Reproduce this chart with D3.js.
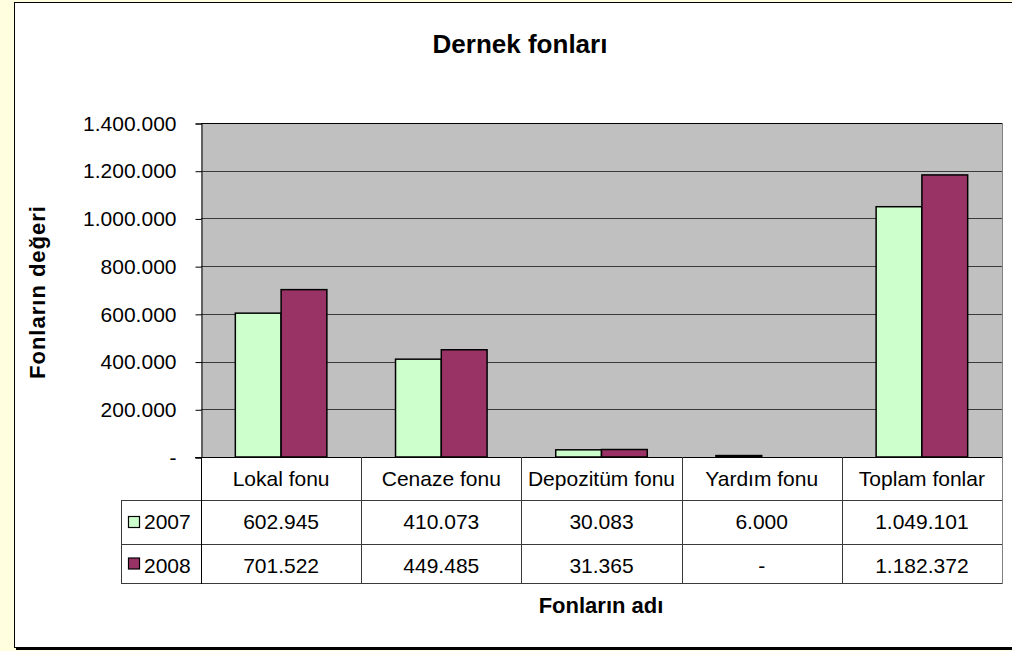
<!DOCTYPE html>
<html>
<head>
<meta charset="utf-8">
<script src="https://cdn.jsdelivr.net/npm/d3@7"></script>
<style>
  html, body { margin: 0; padding: 0; background: #ffffe0; overflow: hidden; }
  svg { display: block; font-family: "Liberation Sans", Arial, sans-serif; }
</style>
</head>
<body>
<div id="chart"></div>
<script>
const categories = ["Lokal fonu", "Cenaze fonu", "Depozitüm fonu", "Yardım fonu", "Toplam fonlar"];
const seriesNames = ["2007", "2008"];
const values2007 = [602945, 410073, 30083, 6000, 1049101];
const values2008 = [701522, 449485, 31365, 0, 1182372];
const yTicks = [0, 200000, 400000, 600000, 800000, 1000000, 1200000, 1400000];
const seriesColors = ["#ccffcc", "#993366"];

const W = 1012, H = 651;
const plot = { left: 201, right: 1002, top: 123, bottom: 457 };
const rowH = [43, 44, 39];  // category row, 2007 row, 2008 row
const legendLeft = 121;

const trLocale = d3.formatLocale({ decimal: ",", thousands: ".", grouping: [3], currency: ["", ""] });
const fmt = v => v === 0 ? "-" : trLocale.format(",.0f")(v);

const svg = d3.select("#chart").append("svg")
    .attr("width", W)
    .attr("height", H);

// chart area with shadow
svg.append("rect")
    .attr("x", 16).attr("y", 4)
    .attr("width", W + 20).attr("height", 646)
    .attr("fill", "#000");
svg.append("rect")
    .attr("x", 14.5).attr("y", 2.5)
    .attr("width", W + 20).attr("height", 645)
    .attr("fill", "#fff")
    .attr("stroke", "#000")
    .attr("stroke-width", 1);

const x = d3.scaleBand()
    .domain(categories)
    .range([plot.left, plot.right]);

const xInner = d3.scaleBand()
    .domain(seriesNames)
    .range([0, x.bandwidth()])
    .paddingInner(0)
    .paddingOuter(0.75);

const y = d3.scaleLinear()
    .domain([0, 1400000])
    .range([plot.bottom, plot.top]);

// plot area
svg.append("rect")
    .attr("x", plot.left).attr("y", plot.top)
    .attr("width", plot.right - plot.left)
    .attr("height", plot.bottom - plot.top)
    .attr("fill", "#c0c0c0");

// gridlines
svg.append("g")
    .selectAll("line")
    .data(yTicks.slice(1))
    .join("line")
    .attr("x1", plot.left).attr("x2", plot.right)
    .attr("y1", d => Math.round(y(d)) + 0.5)
    .attr("y2", d => Math.round(y(d)) + 0.5)
    .attr("stroke", d => d === 1400000 ? "#000" : "#3a3a3a")
    .attr("stroke-width", 1);

// right border of plot area
svg.append("line")
    .attr("x1", plot.right + 0.5).attr("x2", plot.right + 0.5)
    .attr("y1", plot.top).attr("y2", plot.bottom)
    .attr("stroke", "#808080");

// y axis
const yAxis = d3.axisLeft(y)
    .tickValues(yTicks)
    .tickSize(6)
    .tickPadding(19)
    .tickFormat(fmt);

const yg = svg.append("g")
    .attr("transform", `translate(${plot.left + 0.5},0.5)`)
    .call(yAxis);
yg.select(".domain").attr("stroke", "#000");
yg.selectAll(".tick line").attr("stroke", "#000");
yg.selectAll(".tick text")
    .attr("fill", "#000")
    .style("font-size", "21px")
    .style("font-family", "'Liberation Sans', Arial, sans-serif");

// bars
const series = [values2007, values2008];
series.forEach((vals, si) => {
    svg.append("g")
        .selectAll("rect")
        .data(vals)
        .join("rect")
        .attr("x", (d, i) => x(categories[i]) + xInner(seriesNames[si]))
        .attr("y", d => y(d))
        .attr("width", xInner.bandwidth())
        .attr("height", d => y(0) - y(d))
        .attr("fill", seriesColors[si])
        .attr("stroke", "#000")
        .attr("stroke-width", 1.5);
});

// baseline
svg.append("line")
    .attr("x1", plot.left - 6).attr("x2", plot.right + 1)
    .attr("y1", plot.bottom + 0.5).attr("y2", plot.bottom + 0.5)
    .attr("stroke", "#000");

// data table
const rowTop = [plot.bottom, plot.bottom + rowH[0], plot.bottom + rowH[0] + rowH[1]];
const tableBottom = rowTop[2] + rowH[2];
const tg = svg.append("g");

// horizontal lines
[rowTop[1], rowTop[2], tableBottom].forEach(yy => {
    tg.append("line")
        .attr("x1", legendLeft + 0.5).attr("x2", plot.right + 0.5)
        .attr("y1", yy + 0.5).attr("y2", yy + 0.5)
        .attr("stroke", "#3a3a3a");
});
// vertical lines
const vxs = categories.map(c => x(c)).concat([plot.right]);
vxs.forEach((vx, i) => {
    tg.append("line")
        .attr("x1", Math.round(vx) + 0.5).attr("x2", Math.round(vx) + 0.5)
        .attr("y1", plot.bottom).attr("y2", tableBottom + 1)
        .attr("stroke", i === 0 ? "#000" : (i === vxs.length - 1 ? "#808080" : "#3a3a3a"));
});
tg.append("line")
    .attr("x1", legendLeft + 0.5).attr("x2", legendLeft + 0.5)
    .attr("y1", rowTop[1]).attr("y2", tableBottom + 1)
    .attr("stroke", "#3a3a3a");

// category labels
tg.selectAll("text.cat")
    .data(categories)
    .join("text")
    .attr("class", "cat")
    .attr("x", d => x(d) + x.bandwidth() / 2)
    .attr("y", rowTop[0] + 29)
    .attr("text-anchor", "middle")
    .style("font-size", "21px")
    .text(d => d);

// value rows
series.forEach((vals, si) => {
    const ry = rowTop[si + 1];
    tg.append("g")
        .selectAll("text")
        .data(vals)
        .join("text")
        .attr("x", (d, i) => x(categories[i]) + x.bandwidth() / 2)
        .attr("y", ry + 29)
        .attr("text-anchor", "middle")
        .style("font-size", "21px")
        .text(d => fmt(d));

    tg.append("rect")
        .attr("x", 128.5).attr("y", ry + rowH[si + 1] / 2 - 5.5)
        .attr("width", 11).attr("height", 11)
        .attr("fill", seriesColors[si])
        .attr("stroke", "#000")
        .attr("stroke-width", 1.2);
    tg.append("text")
        .attr("x", 144)
        .attr("y", ry + 29)
        .style("font-size", "21px")
        .text(seriesNames[si]);
});

// titles
svg.append("text")
    .attr("x", 520).attr("y", 53)
    .attr("text-anchor", "middle")
    .style("font-size", "26px")
    .style("font-weight", "bold")
    .text("Dernek fonları");

svg.append("text")
    .attr("transform", "translate(45,292) rotate(-90)")
    .attr("text-anchor", "middle")
    .style("font-size", "22px")
    .style("font-weight", "bold")
    .style("letter-spacing", "1px")
    .text("Fonların değeri");

svg.append("text")
    .attr("x", 601).attr("y", 613)
    .attr("text-anchor", "middle")
    .style("font-size", "22px")
    .style("font-weight", "bold")
    .text("Fonların adı");
</script>
</body>
</html>
